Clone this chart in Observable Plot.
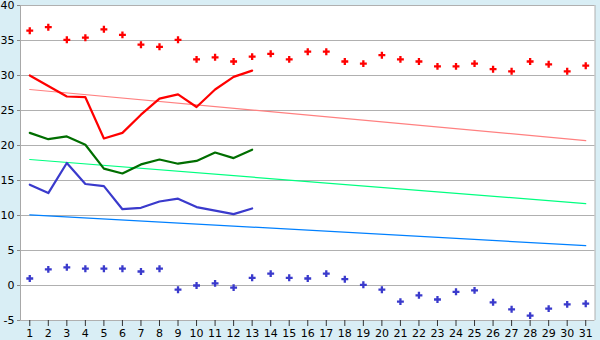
<!DOCTYPE html>
<html>
<head>
<meta charset="utf-8">
<script src="https://cdn.jsdelivr.net/npm/d3@7"></script>
<script src="https://cdn.jsdelivr.net/npm/@observablehq/plot@0.6"></script>
<style>
  html, body { margin: 0; padding: 0; background: #d9eef5; }
  #chart svg { display: block; }
</style>
</head>
<body>
<div id="chart"></div>
<script>
const days = [1,2,3,4,5,6,7,8,9,10,11,12,13,14,15,16,17,18,19,20,21,22,23,24,25,26,27,28,29,30,31];
const recordHigh = [36.4,36.9,35.1,35.4,36.6,35.8,34.4,34.1,35.1,32.3,32.6,32.0,32.7,33.1,32.3,33.4,33.4,32.0,31.7,32.9,32.3,32.0,31.3,31.3,31.7,30.9,30.6,32.0,31.6,30.6,31.4];
const recordLow = [1.0,2.3,2.6,2.4,2.4,2.4,2.0,2.4,-0.6,0.0,0.3,-0.3,1.1,1.7,1.1,1.0,1.7,0.9,0.1,-0.6,-2.3,-1.4,-2.0,-0.9,-0.7,-2.4,-3.4,-4.3,-3.3,-2.7,-2.6];
const obsDays = [1,2,3,4,5,6,7,8,9,10,11,12,13];
const maxTemp = [30.0,28.5,27.0,26.9,21.0,21.8,24.4,26.7,27.3,25.5,28.0,29.8,30.7];
const meanTemp = [21.8,20.9,21.3,20.1,16.7,16.0,17.3,18.0,17.4,17.8,19.0,18.2,19.4];
const minTemp = [14.4,13.2,17.5,14.5,14.2,10.9,11.1,12.0,12.4,11.2,10.7,10.2,11.0];
const trendDays = [1, 31];
const maxTrend = [28.0, 20.7];
const meanTrend = [18.0, 11.7];
const minTrend = [10.1, 5.7];
const yTicks = [-5,0,5,10,15,20,25,30,35,40];

const pts = (xs, ys) => xs.map((d, i) => ({day: d, v: ys[i]}));

const chart = Plot.plot({
  width: 600,
  height: 340,
  marginLeft: 20,
  marginRight: 5.5,
  marginTop: 5,
  marginBottom: 20,
  style: {background: "#d9eef5", fontFamily: "DejaVu Sans, Verdana, sans-serif", fontSize: "11px", color: "#000"},
  x: {domain: [0.5, 31.5], axis: null},
  y: {domain: [-5, 40], axis: null},
  marks: [
    Plot.frame({fill: "white", stroke: "none"}),
    Plot.ruleY(yTicks, {stroke: "#b0b0b0", strokeWidth: 1}),
    Plot.ruleX([0.5], {stroke: "#a8a8a8"}),
    Plot.ruleX([31.5], {stroke: "#b0b0b0"}),
    Plot.axisY({ticks: yTicks, label: null, tickSize: 3, tickPadding: 3, stroke: "#888", tickFormat: d => String(d)}),
    Plot.axisX({ticks: days, label: null, tickSize: 6, tickPadding: 3, stroke: "#333", tickFormat: d => String(d)}),
    Plot.line(pts(trendDays, maxTrend), {x: "day", y: "v", stroke: "#ff8080", strokeWidth: 1.2}),
    Plot.line(pts(trendDays, meanTrend), {x: "day", y: "v", stroke: "#00ff80", strokeWidth: 1.2}),
    Plot.line(pts(trendDays, minTrend), {x: "day", y: "v", stroke: "#0080ff", strokeWidth: 1.2}),
    Plot.line(pts(obsDays, maxTemp), {x: "day", y: "v", stroke: "#ff0000", strokeWidth: 2.2}),
    Plot.line(pts(obsDays, meanTemp), {x: "day", y: "v", stroke: "#006e00", strokeWidth: 2.2}),
    Plot.line(pts(obsDays, minTemp), {x: "day", y: "v", stroke: "#3a3acc", strokeWidth: 2.2}),
    Plot.dot(pts(days, recordHigh), {x: "day", y: "v", symbol: "cross", r: 2.9, fill: "#ff0000", stroke: "none"}),
    Plot.dot(pts(days, recordLow), {x: "day", y: "v", symbol: "cross", r: 2.9, fill: "#3a3acc", stroke: "none"})
  ]
});
document.getElementById("chart").appendChild(chart);
</script>
</body>
</html>
